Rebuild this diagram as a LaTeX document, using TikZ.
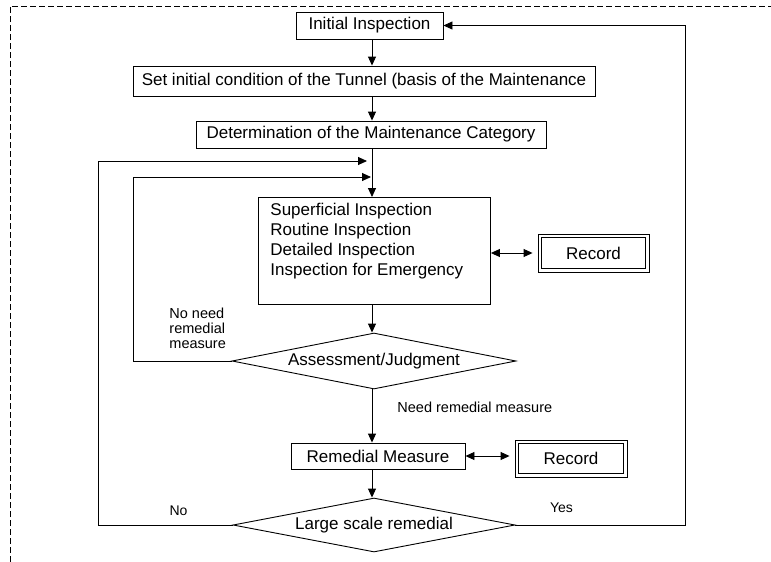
\documentclass[tikz,border=0pt]{standalone}
\usepackage{fontspec}
\setmainfont{Liberation Sans}
\usetikzlibrary{arrows.meta,shapes.geometric,calc}

\begin{document}
\begin{tikzpicture}[x=1pt,y=-1pt,
  line width=0.9pt,
  >={Triangle[length=9pt,width=8pt]},
  txt/.style={font=\fontsize{17}{20}\selectfont},
  lbl/.style={font=\fontsize{14.5}{15}\selectfont, inner sep=0pt},
  box/.style={draw, rectangle, inner sep=0pt, txt},
  decide/.style={draw, diamond, aspect=5, inner sep=0pt, txt},
  frame/.style={dashed, dash pattern=on 6pt off 3pt, line width=0.7pt}]

\useasboundingbox (0,0) rectangle (771,562);

% outer dashed frame (top and left sides)
\draw[frame] (10,562) -- (10,6) -- (771,6);

% main column and loop guides
\coordinate (col) at (372,0);
\coordinate (mergeA) at (367,161);
\coordinate (mergeB) at (371,177);
\coordinate (leftA) at (98,0);
\coordinate (leftB) at (133,0);
\coordinate (rightC) at (685,0);

% process boxes
\node[box, minimum width=147, minimum height=27] (init) at (369.5,25.5) {Initial Inspection};
\node[box, minimum width=462, minimum height=30] (cond) at (364,81)
  {Set initial condition of the Tunnel (basis of the Maintenance};
\node[box, minimum width=350, minimum height=27] (cat) at (371,134.5)
  {Determination of the Maintenance Category};
\node[box, minimum width=232, minimum height=107, anchor=north west] (insp) at (258,197) {};
\node[txt, anchor=north west, align=left, inner sep=0pt] (insptext) at (270,202.5)
  {Superficial Inspection\\Routine Inspection\\Detailed Inspection\\Inspection for Emergency};
\node[box, minimum width=111, minimum height=38] (rec1) at (593.5,253) {Record};
\draw ($(rec1.north west)+(4,4)$) rectangle ($(rec1.south east)-(4,4)$);

\node[decide, minimum width=284, minimum height=56] (assess) at (374,361) {Assessment/Judgment};
\node[box, minimum width=174, minimum height=26] (rem) at (378,456) {Remedial Measure};
\node[box, minimum width=112, minimum height=37] (rec2) at (571,458.5) {Record};
\draw ($(rec2.north west)+(4,4)$) rectangle ($(rec2.south east)-(4,4)$);
\node[decide, minimum width=282, minimum height=54] (large) at (374,525) {Large scale remedial};

% labels
\node[lbl, anchor=west, align=left] (lblno) at (169,328) {No need\\remedial\\measure};
\node[lbl, anchor=west] (lblneed) at (397,407) {Need remedial measure};
\node[lbl, font=\fontsize{14}{15}\selectfont] (lbln) at (178.5,511) {No};
\node[lbl, font=\fontsize{14}{15}\selectfont] (lbly) at (561.5,508) {Yes};

% main flow
\draw[->] (init.south -| col) -- (cond.north -| col);
\draw[->] (cond.south -| col) -- (cat.north -| col);
\draw[->] (cat.south -| col) -- (insp.north -| col);
\draw[->] (insp.south -| col) -- (assess.north -| col);
\draw[->] (assess.south -| col) -- (rem.north -| col);
\draw[->] (rem.south -| col) -- (large.north -| col);

% records
\draw[<->, shorten >=5pt] (rec1.west -| insp.east) -- (rec1.west);
\draw[<->, shorten >=5pt] (rem.east) -- (rem.east -| rec2.west);

% feedback loops
\draw[->] (assess.west) -| (leftB |- mergeB) -- (mergeB);
\draw[->] (large.west) -| (leftA |- mergeA) -- (mergeA);
\draw[->] (large.east) -| (rightC |- init.east) -- (init.east);

\end{tikzpicture}
\end{document}
